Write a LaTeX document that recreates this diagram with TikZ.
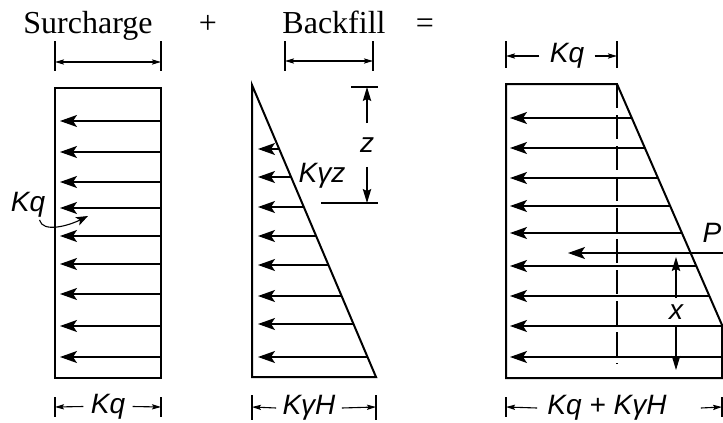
\documentclass[tikz,border=0pt]{standalone}
\usepackage{fontspec}
\setmainfont{Liberation Serif}
\setsansfont{Liberation Sans}
\usetikzlibrary{arrows.meta}

\begin{document}
\begin{tikzpicture}[x=0.5pt,y=-0.5pt,wall/.style={line width=1pt,line join=miter},load/.style={-{Stealth[length=8.5pt,width=6pt,inset=2pt]},line width=.7pt},dim/.style={>={Stealth[length=4.5pt,width=2.6pt,inset=.8pt]},line width=.55pt},tick/.style={line width=.6pt},lvl/.style={-{Stealth[length=7pt,width=4.2pt,inset=1pt]},line width=.55pt},head/.style={font=\fontsize{16}{18}\selectfont,anchor=base},lab/.style={font=\fontsize{14}{16}\selectfont\sffamily\itshape,inner sep=1pt}]
\useasboundingbox (0,0) rectangle (723,423);

% titles
\node[head] (tsur) at (88,33) {Surcharge};
\node[head] (tplus) at (208,33) {+};
\node[head] (tback) at (334,33) {Backfill};
\node[head] (teq) at (425,33) {=};

% surcharge block
\draw[wall] (55,88) rectangle (161,378);
\foreach \y in {121,152,182,208,236,264,294,326,357}
  \draw[load] (161,\y) -- (60,\y);
\coordinate (s1) at (55,62);
\coordinate (s2) at (161,62);
\draw[tick] (55,41) -- (55,71) (161,41) -- (161,71);
\draw[dim,<->] (s1) -- (s2);
\node[lab] (kqa) at (28,205) {Kq};
\coordinate (kqtip) at (88,216);
\draw[-{Stealth[length=6pt,width=4.5pt,inset=1.5pt]},line width=.55pt] ([xshift=-4pt]kqa.south east) .. controls +(3,13) and +(-20,10) .. (kqtip);
\node[lab,inner xsep=3.5pt] (kqb) at (108,406.5) {Kq};
\coordinate (b1) at (55,407);
\coordinate (b2) at (161,407);
\draw[tick] (55,397) -- (55,417) (161,397) -- (161,417);
\draw[dim,->] (kqb.west) -- (b1);
\draw[dim,->] (kqb.east) -- (b2);

% backfill block
\draw[wall] (252,85) -- (252,377) -- (376,377) -- cycle;
\foreach \y in {149,177,207,236,265,296,324,357}
  \draw[load] ({252+(\y-85)*0.42466},\y) -- (258,\y);
\coordinate (f1) at (285,61);
\coordinate (f2) at (373,61);
\draw[tick] (285,41) -- (285,71) (373,41) -- (373,71);
\draw[dim,<->] (f1) -- (f2);
\node[lab] (kgz) at (322,176) {Kγz};
\draw[tick] (351,87) -- (378,87) (321,203) -- (378,203);
\coordinate (z1) at (367,87);
\coordinate (z2) at (367,203);
\node[lab,inner ysep=7pt] (zl) at (367,145) {z};
\draw[lvl] (zl.north) -- (z1);
\draw[lvl] (zl.south) -- (z2);
\node[lab,inner xsep=3pt] (kgh) at (309,408) {KγH};
\coordinate (m1) at (252,407);
\coordinate (m2) at (376,407);
\draw[tick] (252,395) -- (252,420) (376,395) -- (376,420);
\draw[dim,->] (kgh.west) -- (m1);
\draw[dim,->] (kgh.east) -- (m2);

% total block
\draw[wall] (506,84) -- (617,84) -- (722,325) -- (722,378) -- (506,378) -- cycle;
\draw[line width=.75pt,dash pattern=on 12pt off 3.5pt] (617,84) -- (617,364);
\foreach \y in {118,148,178,206,233,266,296,326,357}
  \draw[load] ({min(722,617+(\y-84)*0.43568)},\y) -- (510,\y);
\node[lab,inner xsep=5pt] (kqt) at (567,56) {Kq};
\coordinate (t1) at (506,56);
\coordinate (t2) at (617,56);
\draw[tick] (506,41) -- (506,68) (617,41) -- (617,68);
\draw[dim,->] (kqt.west) -- (t1);
\draw[dim,->] (kqt.east) -- (t2);
\node[lab] (pl) at (712,233) {P};
\coordinate (pr) at (723,253);
\coordinate (ptip) at (568,253);
\draw[load] (pr) -- (ptip);
\node[lab,inner ysep=3pt] (xl) at (676,312) {x};
\coordinate (x1) at (676,257);
\coordinate (x2) at (676,370);
\draw[lvl] (xl.north) -- (x1);
\draw[lvl] (xl.south) -- (x2);
\node[lab,inner xsep=5pt] (ksum) at (607,408) {Kq + KγH};
\coordinate (r1) at (506,407);
\coordinate (r2) at (722,407);
\draw[tick] (506,397) -- (506,417) (722,397) -- (722,417);
\draw[dim,->] (ksum.west) -- (r1);
\draw[dim,->] ([xshift=12pt]ksum.east) -- (r2);
\end{tikzpicture}
\end{document}
